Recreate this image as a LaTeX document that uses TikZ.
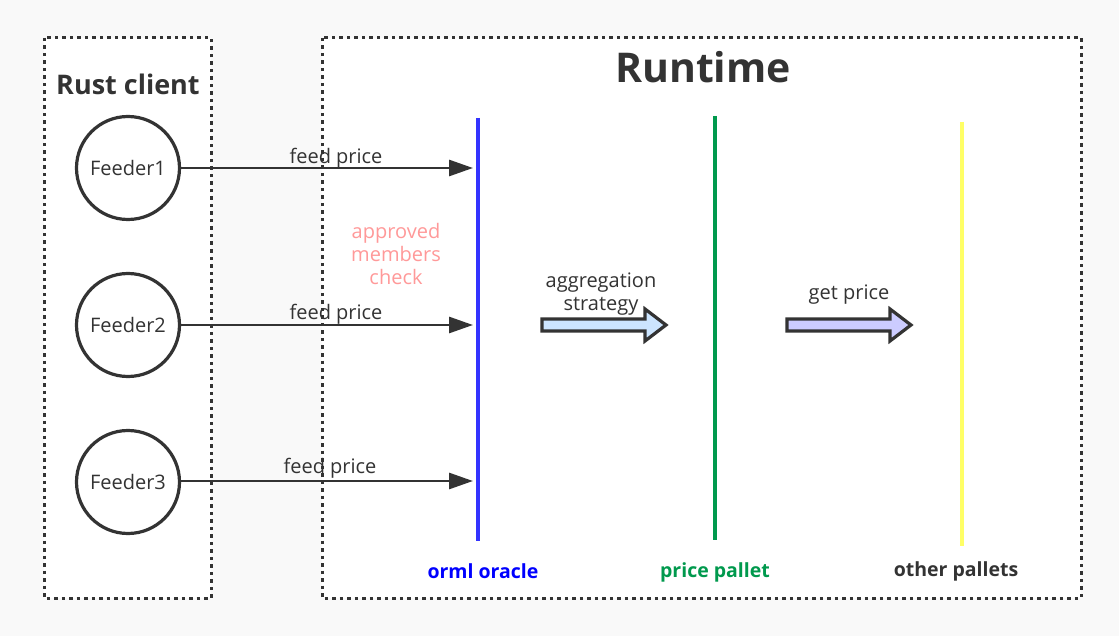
\documentclass[tikz,border=0pt]{standalone}
\usepackage{fontspec}
\setmainfont{Open Sans}
\usetikzlibrary{arrows.meta}

\definecolor{ink}{HTML}{333333}
\definecolor{paper}{HTML}{F9F9F9}
\definecolor{oracleblue}{HTML}{3333FF}
\definecolor{labelblue}{HTML}{0000FF}
\definecolor{palletgreen}{HTML}{00994D}
\definecolor{palletyellow}{HTML}{FFFF66}
\definecolor{checkpink}{HTML}{FF9999}
\definecolor{aggfill}{HTML}{CCE5FF}
\definecolor{getfill}{HTML}{CCCCFF}

\tikzset{
	dotbox/.style={draw=ink, fill=white, line width=3pt, dash pattern=on 3.5pt off 4pt},
	feeder/.style={circle, draw=ink, line width=3.2pt, minimum size=103pt, inner sep=0pt, font=\fontsize{20}{24}\selectfont, text=ink},
	feed/.style={draw=ink, line width=2.8pt, -{Triangle[length=24pt, width=16pt]}},
	msg/.style={font=\fontsize{20}{24}\selectfont, text=ink, align=center},
	lane/.style={line width=4.5pt},
	lanelabel/.style={font=\bfseries\fontsize{19.5}{23}\selectfont},
	blockarrow/.style={draw=ink, line width=3.2pt, line join=miter}
}

\begin{document}
\begin{tikzpicture}[x=1pt, y=-1pt]
	
	\useasboundingbox (0, 0) rectangle (1119, 636);
	\fill[paper] (0, 0) rectangle (1119, 636);
	
	% containers
	\draw[dotbox] (44, 38) rectangle (211, 598);
	\draw[dotbox] (322, 38) rectangle (1081, 598);
	\node[font=\bfseries\fontsize{27}{32}\selectfont, text=ink] (client title) at (128, 84) {Rust client};
	\node[font=\bfseries\fontsize{41}{48}\selectfont, text=ink] (runtime title) at (703, 67) {Runtime};
	
	% feeders
	\node[feeder] (f1) at (128, 168) {Feeder1};
	\node[feeder] (f2) at (128, 325) {Feeder2};
	\node[feeder] (f3) at (128, 482) {Feeder3};
	
	% lanes
	\coordinate (oracle top) at (478, 118);
	\coordinate (oracle bottom) at (478, 541);
	\coordinate (price top) at (715, 116);
	\coordinate (price bottom) at (715, 540);
	\coordinate (other top) at (962, 122);
	\coordinate (other bottom) at (962, 546);
	\draw[lane, oracleblue] (oracle top) -- (oracle bottom);
	\draw[lane, palletgreen] (price top) -- (price bottom);
	\draw[lane, palletyellow] (other top) -- (other bottom);
	
	\node[lanelabel, text=labelblue] (oracle label) at (483, 571) {orml oracle};
	\node[lanelabel, text=palletgreen] (price label) at (715, 572) {price pallet};
	\node[lanelabel, text=ink] (other label) at (956, 571) {other pallets};
	
	% feed prices
	\coordinate (o1) at (473, 168);
	\coordinate (o2) at (473, 325);
	\coordinate (o3) at (473, 481);
	\draw[feed] (f1) -- (o1);
	\draw[feed] (f2) -- (o2);
	\draw[feed] (f3.east |- o3) -- (o3);
	\node[msg] (p1) at (336, 158) {feed price};
	\node[msg] (p2) at (336, 314) {feed price};
	\node[msg] (p3) at (330, 468) {feed price};
	
	\node[msg, text=checkpink, font=\fontsize{20}{23.5}\selectfont] (check) at (396, 254) {approved\\members\\check};
	
	% aggregation and get price
	\draw[blockarrow, fill=aggfill] (542, 319) -- (645, 319) -- (645, 309) -- (666, 325)
		-- (645, 341) -- (645, 331) -- (542, 331) -- cycle;
	\node[msg, font=\fontsize{20}{23}\selectfont] (agg) at (601, 294) {aggregation\\strategy};
	
	\draw[blockarrow, fill=getfill] (787, 319) -- (890, 319) -- (890, 309) -- (911, 325)
		-- (890, 341) -- (890, 331) -- (787, 331) -- cycle;
	\node[msg] (get) at (849, 295) {get price};
	
\end{tikzpicture}
\end{document}
